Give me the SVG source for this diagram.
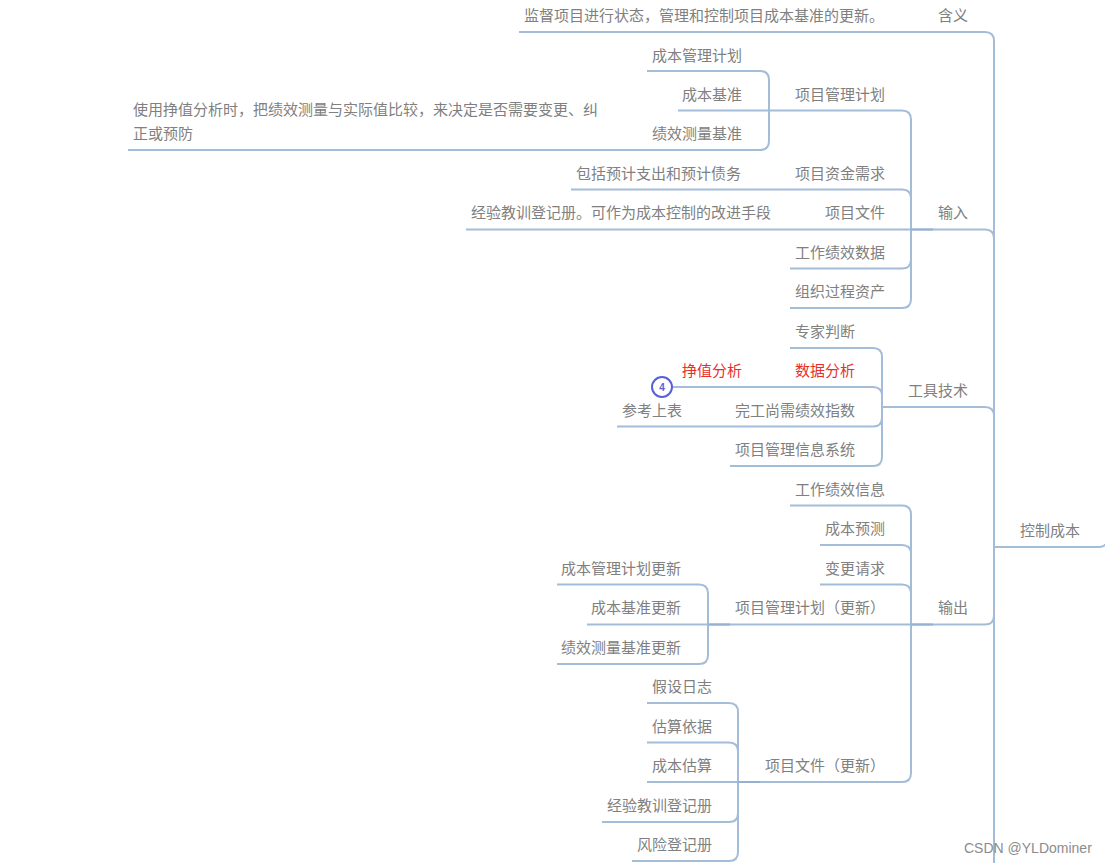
<svg xmlns="http://www.w3.org/2000/svg" width="1105" height="863" viewBox="0 0 1105 863">
<style>
.bg{fill:#fff}
.c path{fill:none;stroke:#a3bcd8;stroke-width:2;stroke-linecap:butt}
.c path.j{stroke:#93b1d2}
text{font-family:"Noto Sans CJK SC","Noto Sans",sans-serif;font-size:15px;fill:#808080}
text.r{fill:#e8302a}
text.b{font-family:"Liberation Sans",sans-serif;font-size:10px;font-weight:700;fill:#5a5fd6;text-anchor:middle}
text.w{font-family:"Liberation Sans",sans-serif;font-size:14px;fill:#8c8c8c}
</style>
<rect class="bg" width="1105" height="863"/>
<g id="connectors" class="c">
<path d="M519 32H985Q994 32 994 41V863"/>
<path d="M466 229.500H985Q994 229.500 994 238.500"/>
<path d="M882 407H985Q994 407 994 416"/>
<path d="M587 624.500H985Q994 624.500 994 615.500"/>
<path d="M994 547H1096Q1105 547 1105 544"/>
<path d="M678 110.500H902Q911 110.500 911 119.500V299Q911 308 902 308H790"/>
<path d="M571 189.500H902Q911 189.500 911 198.500"/>
<path d="M790 268.500H902Q911 268.500 911 259.500"/>
<path d="M647 71H760Q769 71 769 80V141Q769 150 760 150H128"/>
<path d="M790 348H873Q882 348 882 357V457Q882 466 873 466H730"/>
<path d="M673 387H873Q882 387 882 396"/>
<path d="M617 426.500H873Q882 426.500 882 417.500"/>
<path d="M790 505.500H902Q911 505.500 911 514.500V773Q911 782 902 782H760"/>
<path d="M820 545H902Q911 545 911 554"/>
<path d="M820 584.500H902Q911 584.500 911 593.500"/>
<path d="M557 584.500H699Q708 584.500 708 593.500V655Q708 664 699 664H557"/>
<path d="M647 703H729Q738 703 738 712V852Q738 861 729 861H632"/>
<path d="M647 742.500H729Q738 742.500 738 751.500"/>
<path d="M647 782H738"/>
<path d="M602 822H729Q738 822 738 813"/>
<path class="j" d="M911 229.500H933M911 624.500H933M708 624.500H730M738 782H760"/>
</g>
<g id="root"><text x="1020" y="536">控制成本</text></g>
<g id="n-hanyi"><text x="938" y="21">含义</text></g>
<g id="n-jiandu"><text x="524" y="21">监督项目进行状态，管理和控制项目成本基准的更新。</text></g>
<g id="n-shuru"><text x="938" y="218">输入</text></g>
<g id="n-xmgljh"><text x="795" y="100">项目管理计划</text></g>
<g id="n-cbgljh"><text x="652" y="61">成本管理计划</text></g>
<g id="n-cbjz"><text x="682" y="100">成本基准</text></g>
<g id="n-jxclji"><text x="652" y="139">绩效测量基准</text></g>
<g id="n-note"><text x="133" y="115">使用挣值分析时，把绩效测量与实际值比较，来决定是否需要变更、纠</text><text x="133" y="139">正或预防</text></g>
<g id="n-zjxq"><text x="795" y="179">项目资金需求</text></g>
<g id="n-bkyj"><text x="576" y="179">包括预计支出和预计债务</text></g>
<g id="n-xmwj"><text x="825" y="218">项目文件</text></g>
<g id="n-jyjx"><text x="471" y="218">经验教训登记册。可作为成本控制的改进手段</text></g>
<g id="n-gzjxsj"><text x="795" y="258">工作绩效数据</text></g>
<g id="n-zzgczc"><text x="795" y="297">组织过程资产</text></g>
<g id="n-gjjs"><text x="908" y="396">工具技术</text></g>
<g id="n-zjpd"><text x="795" y="337">专家判断</text></g>
<g id="n-sjfx"><text class="r" x="795" y="376">数据分析</text></g>
<g id="n-zzfx"><text class="r" x="682" y="376">挣值分析</text></g>
<g id="n-badge"><circle cx="662" cy="387" r="10" fill="#fff" stroke="#5a5fd6" stroke-width="2"/><text class="b" x="662" y="390.500">4</text></g>
<g id="n-wgsx"><text x="735" y="416">完工尚需绩效指数</text></g>
<g id="n-ckb"><text x="622" y="416">参考上表</text></g>
<g id="n-xxxt"><text x="735" y="455">项目管理信息系统</text></g>
<g id="n-shuchu"><text x="938" y="613">输出</text></g>
<g id="n-gzjxxx"><text x="795" y="495">工作绩效信息</text></g>
<g id="n-cbyc"><text x="825" y="534">成本预测</text></g>
<g id="n-bgqq"><text x="825" y="574">变更请求</text></g>
<g id="n-jhgx"><text x="735" y="613">项目管理计划（更新）</text></g>
<g id="n-g1"><text x="561" y="574">成本管理计划更新</text></g>
<g id="n-g2"><text x="591" y="613">成本基准更新</text></g>
<g id="n-g3"><text x="561" y="653">绩效测量基准更新</text></g>
<g id="n-wjgx"><text x="765" y="771">项目文件（更新）</text></g>
<g id="n-f1"><text x="652" y="692">假设日志</text></g>
<g id="n-f2"><text x="652" y="732">估算依据</text></g>
<g id="n-f3"><text x="652" y="771">成本估算</text></g>
<g id="n-f4"><text x="607" y="811">经验教训登记册</text></g>
<g id="n-f5"><text x="637" y="850">风险登记册</text></g>
<text class="w" x="964" y="853">CSDN @YLDominer</text>
</svg>
